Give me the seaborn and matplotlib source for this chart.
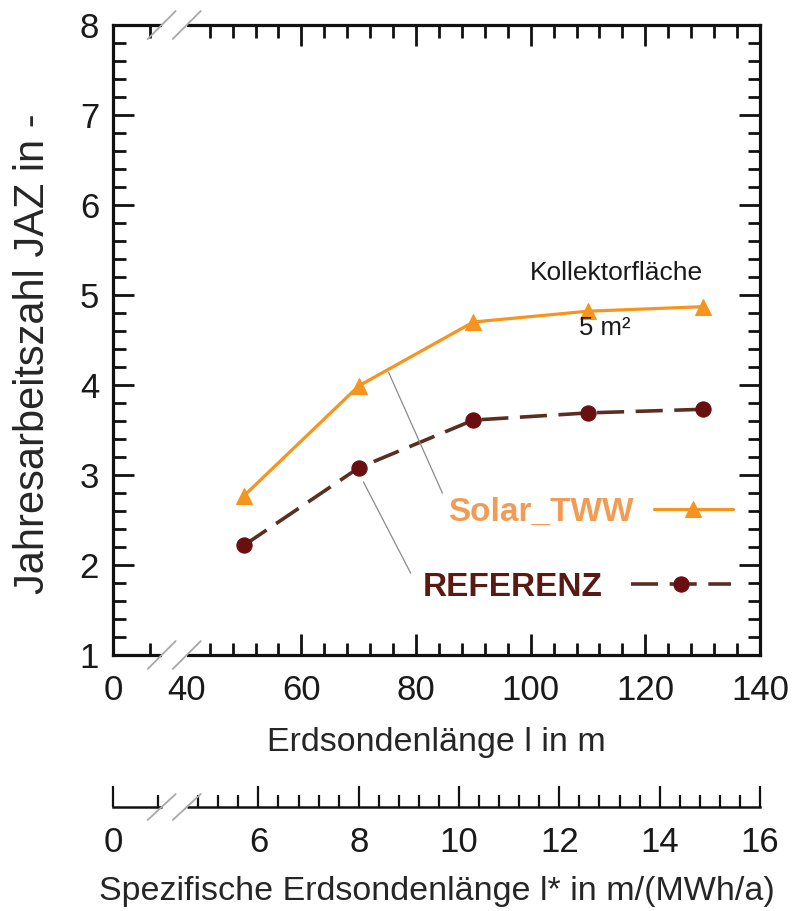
import numpy as np
import pandas as pd
import matplotlib
matplotlib.use("Agg")
import matplotlib.pyplot as plt
import seaborn as sns

# ---------------- data ----------------
laenge = [50, 70, 90, 110, 130]                 # Erdsondenlänge l in m
jaz_solar = [2.77, 3.99, 4.70, 4.82, 4.87]      # Solar_TWW
jaz_ref = [2.22, 3.08, 3.61, 3.69, 3.73]        # REFERENZ
series_names = ["Solar_TWW", "REFERENZ"]

x_major = [0, 40, 60, 80, 100, 120, 140]
x_major_labels = ["0", "40", "60", "80", "100", "120", "140"]
y_major = [1, 2, 3, 4, 5, 6, 7, 8]
y_major_labels = ["1", "2", "3", "4", "5", "6", "7", "8"]
sec_major = [0, 6, 8, 10, 12, 14, 16]
sec_major_labels = ["0", "6", "8", "10", "12", "14", "16"]
K_SPEC = 8.75   # l / l*  (m per m/(MWh/a))

# ---------------- style ----------------
sns.set_style("white")
plt.rcParams["font.family"] = ["Liberation Sans", "DejaVu Sans"]
plt.rcParams["text.color"] = "#1a1a1a"

C_SOLAR = "#F7941D"
C_SOLAR_TXT = "#F29B55"
C_REF_LINE = "#5C2E22"
C_REF_MARK = "#6A0F10"
C_REF_TXT = "#5A1A14"

# broken x axis: 0..40 compressed
P0 = 27.13
def fwd(x):
    x = np.asarray(x, float)
    return np.where(x >= 40, x, P0 + x * (40 - P0) / 40)
def inv(p):
    p = np.asarray(p, float)
    return np.where(p >= 40, p, (p - P0) * 40 / (40 - P0))
def fwd2(s):
    return fwd(np.asarray(s, float) * K_SPEC)
def inv2(p):
    return inv(p) / K_SPEC

W, H = 793, 911
fig = plt.figure(figsize=(W / 100, H / 100), dpi=100)
L, R, T, B = 113, 760, 25, 655
ax = fig.add_axes([L / W, 1 - B / H, (R - L) / W, (B - T) / H])

df = pd.DataFrame({
    "l": laenge * 2,
    "JAZ": jaz_solar + jaz_ref,
    "Serie": [series_names[0]] * len(laenge) + [series_names[1]] * len(laenge),
})

sns.lineplot(data=df[df.Serie == "Solar_TWW"], x="l", y="JAZ", ax=ax,
             color=C_SOLAR, lw=2.3, marker="^", markersize=11,
             markerfacecolor=C_SOLAR, markeredgecolor=C_SOLAR, legend=False)
sns.lineplot(data=df[df.Serie == "REFERENZ"], x="l", y="JAZ", ax=ax,
             color=C_REF_LINE, lw=2.6, marker="o", markersize=11,
             markerfacecolor=C_REF_MARK, markeredgecolor=C_REF_MARK, legend=False)
solar_line, ref_line = ax.lines[0], ax.lines[1]
ref_line.set_dashes((7.5, 3.2))

ax.set_xscale("function", functions=(fwd, inv))
ax.set_xlim(0, 140)
ax.set_ylim(1, 8)

ax.set_xticks(x_major)
ax.set_xticklabels(x_major_labels)
ax.set_xticks([20] + [v for v in range(44, 140, 4) if v % 20 != 0], minor=True)
ax.set_yticks(y_major)
ax.set_yticklabels(y_major_labels)
ax.set_yticks([v / 10 for v in range(10, 80, 2) if v % 10 != 0], minor=True)

ax.tick_params(which="both", direction="in", top=True, right=True, bottom=True, left=True,
               width=2.0, color="#111111", labelsize=25, labelcolor="#1a1a1a")
ax.tick_params(which="major", length=15)
ax.tick_params(which="minor", length=9)
ax.tick_params(axis="x", which="major", pad=14)
ax.tick_params(axis="y", which="major", pad=10)
t40 = ax.xaxis.get_major_ticks()[1]
t40.tick1line.set_visible(False)
t40.tick2line.set_visible(False)

for s in ax.spines.values():
    s.set_linewidth(2.3)
    s.set_color("#111111")

ax.set_xlabel("Erdsondenlänge l in m", fontsize=24.5, labelpad=14)
ax.set_ylabel("Jahresarbeitszahl JAZ in -", fontsize=30)
ax.yaxis.set_label_coords(-0.092, 0.478)

# axis break
GAP = (26.4, 39.9)
bt = ax.get_xaxis_transform()
for yy in (0, 1):
    ax.plot(GAP, [yy, yy], color="white", lw=6, solid_capstyle="butt",
            transform=bt, clip_on=False, zorder=20)
fig.canvas.draw()
def axfrac_x(xdata, a):
    d = a.transData.transform((xdata, 1 if a is ax else 0))
    return a.transAxes.inverted().transform(d)[0]
ax_w = (R - L); ax_h = (B - T)
dx, dy = 14 / ax_w, 14 / ax_h
for xe in (axfrac_x(GAP[0], ax), axfrac_x(40.0, ax)):
    for yy in (0, 1):
        ax.plot([xe - dx, xe + dx], [yy - dy, yy + dy], color="#A8A8A8", lw=1.3,
                transform=ax.transAxes, clip_on=False, zorder=21)

# leader lines
ax.annotate("", xy=(75, 4.17), xytext=(84.8, 2.77),
            arrowprops=dict(arrowstyle="-", color="#8A8A8A", lw=0.9))
ax.annotate("", xy=(70.6, 2.95), xytext=(79.3, 1.88),
            arrowprops=dict(arrowstyle="-", color="#8A8A8A", lw=0.9))

# texts
ax.text(115.0, 5.24, "Kollektorfläche", fontsize=19, ha="center", va="center")
ax.text(113.0, 4.63, "5 m²", fontsize=18.5, ha="center", va="center")

# legends
leg1 = ax.legend(handles=[solar_line], labels=[series_names[0]], loc="center left",
                 bbox_to_anchor=(448 / W, 1 - 512 / H), bbox_transform=fig.transFigure,
                 frameon=False, markerfirst=False, handlelength=2.35, handletextpad=0.62,
                 borderpad=0, borderaxespad=0, numpoints=1,
                 prop=dict(family="Liberation Sans", weight="bold", size=24),
                 labelcolor=C_SOLAR_TXT)
ax.add_artist(leg1)
leg2 = ax.legend(handles=[ref_line], labels=[series_names[1]], loc="center left",
                 bbox_to_anchor=(423 / W, 1 - 587 / H), bbox_transform=fig.transFigure,
                 frameon=False, markerfirst=False, handlelength=3.0, handletextpad=0.85,
                 borderpad=0, borderaxespad=0, numpoints=1,
                 prop=dict(family="Liberation Sans", weight="bold", size=24),
                 labelcolor=C_REF_TXT)

# secondary axis (specific length)
SY = 807
ax2 = fig.add_axes([L / W, 1 - SY / H, (R - L) / W, 0.02])
ax2.set_facecolor("none")
for k in ("top", "left", "right"):
    ax2.spines[k].set_visible(False)
ax2.spines["bottom"].set_linewidth(1.8)
ax2.spines["bottom"].set_color("#111111")
ax2.set_xscale("function", functions=(fwd2, inv2))
ax2.set_xlim(0, 16)
ax2.set_yticks([])
ax2.set_xticks(sec_major)
ax2.set_xticklabels(sec_major_labels)
ax2.set_xticks([2.8] + [round(4.8 + 0.4 * i, 1) for i in range(28) if round(4.8 + 0.4 * i, 1) % 2 != 0], minor=True)
ax2.tick_params(axis="x", which="both", direction="in", bottom=True, top=False,
                width=1.6, color="#111111",
                labelsize=25, labelcolor="#1a1a1a", pad=14)
ax2.tick_params(axis="x", which="major", length=15)
ax2.tick_params(axis="x", which="minor", length=9)
ax2.set_xlabel("Spezifische Erdsondenlänge l* in m/(MWh/a)", fontsize=24.5, labelpad=12)
GAP2 = (GAP[0] / K_SPEC, 39.9 / K_SPEC)
ax2.plot(GAP2, [0, 0], color="white", lw=5, solid_capstyle="butt",
         transform=ax2.get_xaxis_transform(), clip_on=False, zorder=20)
ax2_h = 0.02 * H
for xe in (GAP[0] / K_SPEC, 40.0 / K_SPEC):
    d = ax2.transData.transform((xe, 0))
    xf = ax2.transAxes.inverted().transform(d)[0]
    ax2.plot([xf - dx, xf + dx], [-13 / ax2_h, 13 / ax2_h], color="#A8A8A8", lw=1.3,
             transform=ax2.transAxes, clip_on=False, zorder=21)

fig.savefig("out.png", dpi=100)
